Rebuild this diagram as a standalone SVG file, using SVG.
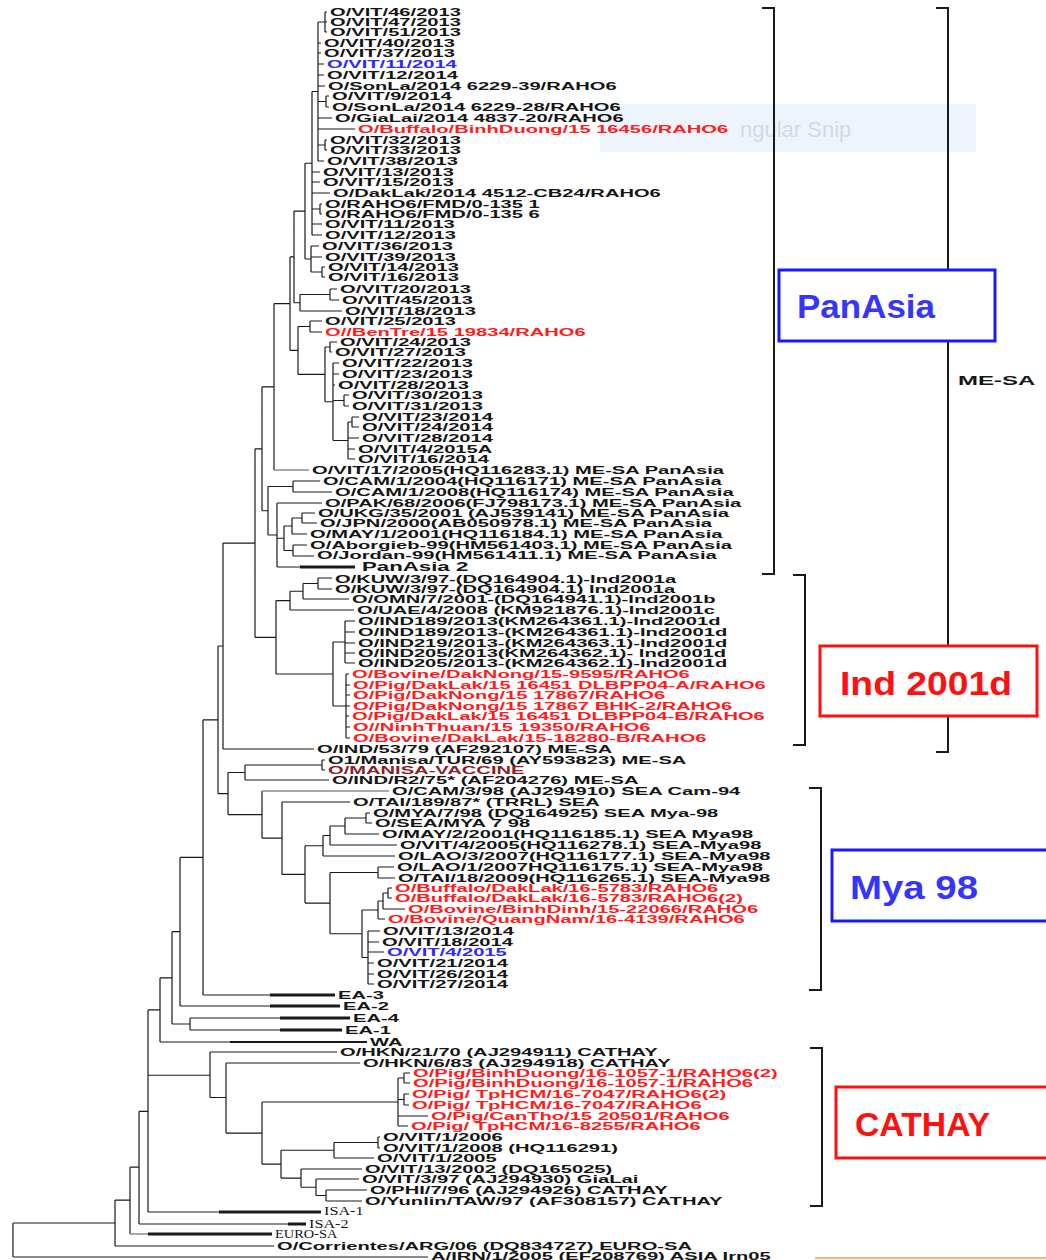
<svg xmlns="http://www.w3.org/2000/svg" width="1046" height="1260" viewBox="0 0 1046 1260">
<style>
.t{font-family:"Liberation Sans",Arial,sans-serif;font-weight:bold;font-size:11px;fill:#151515}
.r{fill:#ff1c1c}.b{fill:#2a2aff}.dr{fill:#8a1f2a}
.s{font-family:"Liberation Serif","Times New Roman",serif;font-size:12px;fill:#151515}
.e{fill:none;stroke:#1a1a1a;stroke-width:1.2}
.gy{fill:none;stroke:#8c8c8c;stroke-width:1.4}
.k{fill:none;stroke:#1a1a1a;stroke-width:3}
.br{fill:none;stroke:#1a1a1a;stroke-width:2}
.bx{fill:#fff;stroke-width:3}
.bl{font-family:"Liberation Sans",Arial,sans-serif;font-weight:bold;font-size:34px}
</style>
<rect width="1046" height="1260" fill="#fff"/>
<g id="watermark">
<rect x="600" y="104" width="376" height="48" fill="#eef4fb"/>
<text x="740" y="137" font-family="Liberation Sans,Arial,sans-serif" font-size="22" fill="#d2d9e3">ngular Snip</text>
</g>
<g id="connectors">
<path class="e" d="M325 12V32M325 12H327M325 22H327M325 32H327
M318 22V161M318 22H325M318 43H321M318 53H321M318 64H324M318 75H324M318 86H325M318 101.5H326M318 118H332M318 129H355M318 145H325M318 161H324
M326 96V107M326 96H329M326 107H329M325 140V150M325 140H327M325 150H327
M312 91.5V235M312 91.5H318M312 172H320M312 182H320M312 193H330M312 209H320M312 224H322M312 235H322
M320 204V214M320 204H322M320 214H322
M311 246V272M311 246H319M311 257H322M311 272H322M322 267V277M322 267H325M322 277H325
M305 163.25V259M305 163.25H312M305 259H311
M330 289V300M330 289H337M330 300H339M300 294.5V311M300 294.5H330M300 311H342
M294 211.1V302.75M294 211.1H305M294 302.75H300
M310 321V332M310 321H322M310 332H322M330 342V352M330 342H337M330 352H332
M344 395V406M344 395H349M344 406H349M352 417V427M352 417H359M352 427H359
M348 422V459M348 422H352M348 438H359M348 449H355M348 459H355
M333 363V440.5M333 363H339M333 374H339M333 385H335M333 400.5H344M333 440.5H348
M325 347V401.75M325 347H330M325 401.75H333
M298 326.5V374.4M298 326.5H310M298 374.4H325
M290 256.9V350.4M290 256.9H294M290 350.4H298
M274 303.6V470M274 303.6H290
M293 481V492M293 481H320M293 492H332M302 513V523M302 513H315M302 523H317
M292 518V534M292 518H302M292 534H307M293 545V556M293 545H307M293 556H314
M284 526V550.5M284 526H292M284 550.5H293
M277 503V567M277 503H322M277 538.25H284M277 567H300
M268 486.5V535M268 486.5H293M268 535H277
M262 386.8V510.75M262 386.8H274M262 510.75H268
M318 578V589M318 578H332M318 589H332M303 583.5V599M303 583.5H318M303 599H349
M290 591.25V610M290 591.25H303M290 610H354
M345 621V663M345 621H355M345 632H355M345 643H355M345 653H355M345 663H355
M346 674V738M346 674H349M346 685H350M346 695H350M346 706H350M346 716H349M346 727H350M346 738H350
M333 642V706M333 642H345M333 706H346
M276 600.6V674M276 600.6H290M276 674H333
M255 448.8V637.3M255 448.8H262M255 637.3H276
M223 543.05V749M223 543.05H255M223 749H314
M322 760V770M322 760H325M322 770H325M245 765V780M245 765H322M245 780H329
M366 813V823M366 813H370M366 823H372M345 818V834M345 818H366M345 834H379
M330 826V845M330 826H345M330 845H397M323 835.5V856M323 835.5H330M323 856H395
M378 867V878M378 867H394M378 878H395
M388 888V898M388 888H392M388 898H392M383 893V909M383 893H388M383 909H405
M378 901V919M378 901H383M378 919H385
M368 931V984M368 931H380M368 942H379M368 952H384M368 963H374M368 974H374M368 984H374
M362 910V957.5M362 910H378M362 957.5H368
M330 872.5V933.75M330 872.5H378M330 933.75H362
M305 845.75V903.1M305 845.75H323M305 903.1H330
M282 802V874.4M282 802H350M282 874.4H305
M262 791V838.2M262 838.2H282
M228 772.5V814.6M228 772.5H245M228 814.6H262
M218 646V793.55M218 646H223M218 793.55H228
M203 719.8V995M203 719.8H218M203 995H270
M180 857.4V1006M180 857.4H203M180 1006H270
M190 1018V1030M190 1018H280M190 1030H280
M172 931.7V1024M172 931.7H180M172 1024H190
M160 977.85V1042M160 977.85H172M160 1042H230
M404 1073V1083M404 1073H410M404 1083H410M404 1094V1105M404 1094H409M404 1105H409
M398 1078V1126M398 1078H404M398 1099.5H404M398 1116H428M398 1126H408
M378 1137V1148M378 1137H380M378 1148H380M334 1142.5V1158M334 1142.5H378M334 1158H374
M326 1190V1201M326 1190H367M326 1201H362M316 1179V1195.5M316 1179H359M316 1195.5H326
M301 1169V1187.25M301 1169H362M301 1187.25H316
M281 1150.25V1178.1M281 1150.25H334M281 1178.1H301
M262 1102V1164.2M262 1102H398M262 1164.2H281
M226 1063V1133.1M226 1063H360M226 1133.1H262
M210 1052V1097.5M210 1052H337M210 1097.5H226
M148 1009.9V1212M148 1009.9H160M148 1075.25H210M148 1212H219
M139 1111.45V1224M139 1111.45H148M139 1224H288
M130 1167.2V1234M130 1167.2H139
M115 1200.1V1246M115 1200.1H130M115 1246H274
M13 1223V1257M13 1223H115M13 1257H428"/>
<path class="gy" d="M274 470H309M262 791H389M130 1234H148"/>
<path class="k" d="M300 567H355M270 995H335M270 1006H340M280 1018H350M280 1030H342M219 1212H321M288 1224H306M148 1234H272"/>
<path fill="none" stroke="#1a1a1a" stroke-width="2" d="M230 1042H367"/>
</g>
<g id="panasia-leaves">
<text id="L1" class="t" transform="translate(330 16) scale(1.83 1)">O/VIT/46/2013</text>
<text id="L2" class="t" transform="translate(330 26) scale(1.83 1)">O/VIT/47/2013</text>
<text id="L3" class="t" transform="translate(330 36) scale(1.83 1)">O/VIT/51/2013</text>
<text id="L4" class="t" transform="translate(324 47) scale(1.83 1)">O/VIT/40/2013</text>
<text id="L5" class="t" transform="translate(324 57) scale(1.83 1)">O/VIT/37/2013</text>
<text id="L6" class="t b" transform="translate(327 68) scale(1.83 1)">O/VIT/11/2014</text>
<text id="L7" class="t" transform="translate(327 79) scale(1.83 1)">O/VIT/12/2014</text>
<text id="L8" class="t" transform="translate(328 90) scale(1.83 1)">O/SonLa/2014 6229-39/RAHO6</text>
<text id="L9" class="t" transform="translate(332 100) scale(1.83 1)">O/VIT/9/2014</text>
<text id="L10" class="t" transform="translate(332 111) scale(1.83 1)">O/SonLa/2014 6229-28/RAHO6</text>
<text id="L11" class="t" transform="translate(335 122) scale(1.83 1)">O/GiaLai/2014 4837-20/RAHO6</text>
<text id="L12" class="t r" transform="translate(358 133) scale(1.83 1)">O/Buffalo/BinhDuong/15 16456/RAHO6</text>
<text id="L13" class="t" transform="translate(330 144) scale(1.83 1)">O/VIT/32/2013</text>
<text id="L14" class="t" transform="translate(330 154) scale(1.83 1)">O/VIT/33/2013</text>
<text id="L15" class="t" transform="translate(327 165) scale(1.83 1)">O/VIT/38/2013</text>
<text id="L16" class="t" transform="translate(323 176) scale(1.83 1)">O/VIT/13/2013</text>
<text id="L17" class="t" transform="translate(323 186) scale(1.83 1)">O/VIT/15/2013</text>
<text id="L18" class="t" transform="translate(333 197) scale(1.83 1)">O/DakLak/2014 4512-CB24/RAHO6</text>
<text id="L19" class="t" transform="translate(325 208) scale(1.83 1)">O/RAHO6/FMD/0-135 1</text>
<text id="L20" class="t" transform="translate(325 218) scale(1.83 1)">O/RAHO6/FMD/0-135 6</text>
<text id="L21" class="t" transform="translate(325 228) scale(1.83 1)">O/VIT/11/2013</text>
<text id="L22" class="t" transform="translate(325 239) scale(1.83 1)">O/VIT/12/2013</text>
<text id="L23" class="t" transform="translate(322 250) scale(1.83 1)">O/VIT/36/2013</text>
<text id="L24" class="t" transform="translate(325 261) scale(1.83 1)">O/VIT/39/2013</text>
<text id="L25" class="t" transform="translate(328 271) scale(1.83 1)">O/VIT/14/2013</text>
<text id="L26" class="t" transform="translate(328 281) scale(1.83 1)">O/VIT/16/2013</text>
<text id="L27" class="t" transform="translate(340 293) scale(1.83 1)">O/VIT/20/2013</text>
<text id="L28" class="t" transform="translate(342 304) scale(1.83 1)">O/VIT/45/2013</text>
<text id="L29" class="t" transform="translate(345 315) scale(1.83 1)">O/VIT/18/2013</text>
<text id="L30" class="t" transform="translate(325 325) scale(1.83 1)">O/VIT/25/2013</text>
<text id="L31" class="t r" transform="translate(325 336) scale(1.83 1)">O//BenTre/15 19834/RAHO6</text>
<text id="L32" class="t" transform="translate(340 346) scale(1.83 1)">O/VIT/24/2013</text>
<text id="L33" class="t" transform="translate(335 356) scale(1.83 1)">O/VIT/27/2013</text>
<text id="L34" class="t" transform="translate(342 367) scale(1.83 1)">O/VIT/22/2013</text>
<text id="L35" class="t" transform="translate(342 378) scale(1.83 1)">O/VIT/23/2013</text>
<text id="L36" class="t" transform="translate(338 389) scale(1.83 1)">O/VIT/28/2013</text>
<text id="L37" class="t" transform="translate(352 399) scale(1.83 1)">O/VIT/30/2013</text>
<text id="L38" class="t" transform="translate(352 410) scale(1.83 1)">O/VIT/31/2013</text>
<text id="L39" class="t" transform="translate(362 421) scale(1.83 1)">O/VIT/23/2014</text>
<text id="L40" class="t" transform="translate(362 431) scale(1.83 1)">O/VIT/24/2014</text>
<text id="L41" class="t" transform="translate(362 442) scale(1.83 1)">O/VIT/28/2014</text>
<text id="L42" class="t" transform="translate(358 453) scale(1.83 1)">O/VIT/4/2015A</text>
<text id="L43" class="t" transform="translate(358 463) scale(1.83 1)">O/VIT/16/2014</text>
<text id="L44" class="t" transform="translate(312 474) scale(1.83 1)">O/VIT/17/2005(HQ116283.1) ME-SA PanAsia</text>
<text id="L45" class="t" transform="translate(323 485) scale(1.83 1)">O/CAM/1/2004(HQ116171) ME-SA PanAsia</text>
<text id="L46" class="t" transform="translate(335 496) scale(1.83 1)">O/CAM/1/2008(HQ116174) ME-SA PanAsia</text>
<text id="L47" class="t" transform="translate(325 507) scale(1.83 1)">O/PAK/68/2006(FJ798173.1) ME-SA PanAsia</text>
<text id="L48" class="t" transform="translate(318 517) scale(1.83 1)">O/UKG/35/2001 (AJ539141) ME-SA PanAsia</text>
<text id="L49" class="t" transform="translate(320 527) scale(1.83 1)">O/JPN/2000(AB050978.1) ME-SA PanAsia</text>
<text id="L50" class="t" transform="translate(310 538) scale(1.83 1)">O/MAY/1/2001(HQ116184.1) ME-SA PanAsia</text>
<text id="L51" class="t" transform="translate(310 549) scale(1.83 1)">O/Aborgieb-99(HM561403.1) ME-SA PanAsia</text>
<text id="L52" class="t" transform="translate(317 559) scale(1.83 1)">O/Jordan-99(HM561411.1) ME-SA PanAsia</text>
<text id="L53" class="t" style="font-size:12.5px" transform="translate(362 571) scale(1.78 1)">PanAsia 2</text>
</g>
<g id="ind2001-leaves">
<text id="L54" class="t" transform="translate(335 583) scale(1.83 1)">O/KUW/3/97-(DQ164904.1)-Ind2001a</text>
<text id="L55" class="t" transform="translate(335 593) scale(1.83 1)">O/KUW/3/97-(DQ164904.1) Ind2001a</text>
<text id="L56" class="t" transform="translate(352 603) scale(1.83 1)">O/OMN/7/2001-(DQ164941.1)-Ind2001b</text>
<text id="L57" class="t" transform="translate(357 614) scale(1.83 1)">O/UAE/4/2008 (KM921876.1)-Ind2001c</text>
<text id="L58" class="t" transform="translate(358 625) scale(1.83 1)">O/IND189/2013(KM264361.1)-Ind2001d</text>
<text id="L59" class="t" transform="translate(358 636) scale(1.83 1)">O/IND189/2013-(KM264361.1)-Ind2001d</text>
<text id="L60" class="t" transform="translate(358 647) scale(1.83 1)">O/IND219/2013-(KM264363.1)-Ind2001d</text>
<text id="L61" class="t" transform="translate(358 657) scale(1.83 1)">O/IND205/2013(KM264362.1)- Ind2001d</text>
<text id="L62" class="t" transform="translate(358 667) scale(1.83 1)">O/IND205/2013-(KM264362.1)-Ind2001d</text>
<text id="L63" class="t r" transform="translate(352 678) scale(1.83 1)">O/Bovine/DakNong/15-9595/RAHO6</text>
<text id="L64" class="t r" transform="translate(353 689) scale(1.83 1)">O/Pig/DakLak/15 16451 DLBPP04-A/RAHO6</text>
<text id="L65" class="t r" transform="translate(353 699) scale(1.83 1)">O/Pig/DakNong/15 17867/RAHO6</text>
<text id="L66" class="t r" transform="translate(353 710) scale(1.83 1)">O/Pig/DakNong/15 17867 BHK-2/RAHO6</text>
<text id="L67" class="t r" transform="translate(352 720) scale(1.83 1)">O/Pig/DakLak/15 16451 DLBPP04-B/RAHO6</text>
<text id="L68" class="t r" transform="translate(353 731) scale(1.83 1)">O//NinhThuan/15 19350/RAHO6</text>
<text id="L69" class="t r" transform="translate(353 742) scale(1.83 1)">O/Bovine/DakLak/15-18280-B/RAHO6</text>
<text id="L70" class="t" transform="translate(317 753) scale(1.83 1)">O/IND/53/79 (AF292107) ME-SA</text>
<text id="L71" class="t" transform="translate(328 764) scale(1.83 1)">O1/Manisa/TUR/69 (AY593823) ME-SA</text>
<text id="L72" class="t dr" transform="translate(328 774) scale(1.83 1)">O/MANISA-VACCINE</text>
<text id="L73" class="t" transform="translate(332 784) scale(1.83 1)">O/IND/R2/75* (AF204276) ME-SA</text>
</g>
<g id="sea-leaves">
<text id="L74" class="t" transform="translate(392 795) scale(1.83 1)">O/CAM/3/98 (AJ294910) SEA Cam-94</text>
<text id="L75" class="t" transform="translate(353 806) scale(1.83 1)">O/TAI/189/87* (TRRL) SEA</text>
<text id="L76" class="t" transform="translate(373 817) scale(1.83 1)">O/MYA/7/98 (DQ164925) SEA Mya-98</text>
<text id="L77" class="t" transform="translate(375 827) scale(1.83 1)">O/SEA/MYA 7 98</text>
<text id="L78" class="t" transform="translate(382 838) scale(1.83 1)">O/MAY/2/2001(HQ116185.1) SEA Mya98</text>
<text id="L79" class="t" transform="translate(400 849) scale(1.83 1)">O/VIT/4/2005(HQ116278.1) SEA-Mya98</text>
<text id="L80" class="t" transform="translate(398 860) scale(1.83 1)">O/LAO/3/2007(HQ116177.1) SEA-Mya98</text>
<text id="L81" class="t" transform="translate(397 871) scale(1.83 1)">O/LAO/1/2007HQ116175.1) SEA-Mya98</text>
<text id="L82" class="t" transform="translate(398 882) scale(1.83 1)">O/TAI/18/2009(HQ116265.1) SEA-Mya98</text>
<text id="L83" class="t r" transform="translate(395 892) scale(1.83 1)">O/Buffalo/DakLak/16-5783/RAHO6</text>
<text id="L84" class="t r" transform="translate(395 902) scale(1.83 1)">O/Buffalo/DakLak/16-5783/RAHO6(2)</text>
<text id="L85" class="t r" transform="translate(408 913) scale(1.83 1)">O/Bovine/BinhDinh/15-22066/RAHO6</text>
<text id="L86" class="t r" transform="translate(388 923) scale(1.83 1)">O/Bovine/QuangNam/16-4139/RAHO6</text>
<text id="L87" class="t" transform="translate(383 935) scale(1.83 1)">O/VIT/13/2014</text>
<text id="L88" class="t" transform="translate(382 946) scale(1.83 1)">O/VIT/18/2014</text>
<text id="L89" class="t b" transform="translate(387 956) scale(1.83 1)">O/VIT/4/2015</text>
<text id="L90" class="t" transform="translate(377 967) scale(1.83 1)">O/VIT/21/2014</text>
<text id="L91" class="t" transform="translate(377 978) scale(1.83 1)">O/VIT/26/2014</text>
<text id="L92" class="t" transform="translate(377 988) scale(1.83 1)">O/VIT/27/2014</text>
</g>
<g id="ea-leaves">
<text id="L93" class="t" transform="translate(338 999) scale(1.83 1)">EA-3</text>
<text id="L94" class="t" transform="translate(343 1010) scale(1.83 1)">EA-2</text>
<text id="L95" class="t" transform="translate(353 1022) scale(1.83 1)">EA-4</text>
<text id="L96" class="t" transform="translate(345 1034) scale(1.83 1)">EA-1</text>
<text id="L97" class="t" transform="translate(370 1046) scale(1.83 1)">WA</text>
</g>
<g id="cathay-leaves">
<text id="L98" class="t" transform="translate(340 1056) scale(1.83 1)">O/HKN/21/70 (AJ294911) CATHAY</text>
<text id="L99" class="t" transform="translate(363 1067) scale(1.83 1)">O/HKN/6/83 (AJ294918) CATHAY</text>
<text id="L100" class="t r" transform="translate(413 1077) scale(1.83 1)">O/Pig/BinhDuong/16-1057-1/RAHO6(2)</text>
<text id="L101" class="t r" transform="translate(413 1087) scale(1.83 1)">O/Pig/BinhDuong/16-1057-1/RAHO6</text>
<text id="L102" class="t r" transform="translate(412 1098) scale(1.83 1)">O/Pig/ TpHCM/16-7047/RAHO6(2)</text>
<text id="L103" class="t r" transform="translate(412 1109) scale(1.83 1)">O/Pig/ TpHCM/16-7047/RAHO6</text>
<text id="L104" class="t r" transform="translate(431 1120) scale(1.83 1)">O/Pig/CanTho/15 20501/RAHO6</text>
<text id="L105" class="t r" transform="translate(411 1130) scale(1.83 1)">O/Pig/ TpHCM/16-8255/RAHO6</text>
<text id="L106" class="t" transform="translate(383 1141) scale(1.83 1)">O/VIT/1/2006</text>
<text id="L107" class="t" transform="translate(383 1152) scale(1.83 1)">O/VIT/1/2008 (HQ116291)</text>
<text id="L108" class="t" transform="translate(377 1162) scale(1.83 1)">O/VIT/1/2005</text>
<text id="L109" class="t" transform="translate(365 1173) scale(1.83 1)">O/VIT/13/2002 (DQ165025)</text>
<text id="L110" class="t" transform="translate(362 1183) scale(1.83 1)">O/VIT/3/97 (AJ294930) GiaLai</text>
<text id="L111" class="t" transform="translate(370 1194) scale(1.83 1)">O/PHI/7/96 (AJ294926) CATHAY</text>
<text id="L112" class="t" transform="translate(365 1205) scale(1.83 1)">O/Yunlin/TAW/97 (AF308157) CATHAY</text>
</g>
<g id="outgroup-leaves">
<text id="L113" class="s" transform="translate(324 1215) scale(1.35 1)">ISA-1</text>
<text id="L114" class="s" transform="translate(309 1228) scale(1.35 1)">ISA-2</text>
<text id="L115" class="s" transform="translate(275 1238) scale(1.2 1)">EURO-SA</text>
<text id="L116" class="t" transform="translate(277 1250) scale(1.83 1)">O/Corrientes/ARG/06 (DQ834727) EURO-SA</text>
<text id="L117" class="t" transform="translate(431 1260) scale(1.83 1)">A/IRN/1/2005 (EF208769) ASIA Irn05</text>
</g>
<g id="brackets">
<path class="br" d="M762 8H774V574H762M936 8H948V752H936M793 575H805V745H793M809 788H821V990H809M810 1048H822V1206H810"/>
<text id="mesa" class="t" style="font-size:12px" transform="translate(958 385) scale(2.0 1)">ME-SA</text>
</g>
<g id="box-panasia">
<rect class="bx" x="779" y="270" width="216" height="71" stroke="#1a1aff"/>
<text class="bl" x="797" y="318" fill="#3535ff" textLength="138" lengthAdjust="spacingAndGlyphs">PanAsia</text>
</g>
<g id="box-ind2001d">
<rect class="bx" x="820" y="646" width="217" height="70" stroke="#ff1010"/>
<text class="bl" x="840" y="695" fill="#ff1010" textLength="172" lengthAdjust="spacingAndGlyphs">Ind 2001d</text>
</g>
<g id="box-mya98">
<rect class="bx" x="832" y="850" width="216" height="71" stroke="#1a1aff"/>
<text class="bl" x="850" y="899" fill="#3535ff" textLength="128" lengthAdjust="spacingAndGlyphs">Mya 98</text>
</g>
<g id="box-cathay">
<rect class="bx" x="836" y="1087" width="216" height="71" stroke="#ff1010"/>
<text class="bl" x="855" y="1136" fill="#ff1010" textLength="135" lengthAdjust="spacingAndGlyphs">CATHAY</text>
</g>
<path d="M815 1258H1046" stroke="#f4b183" stroke-width="2"/>
</svg>
